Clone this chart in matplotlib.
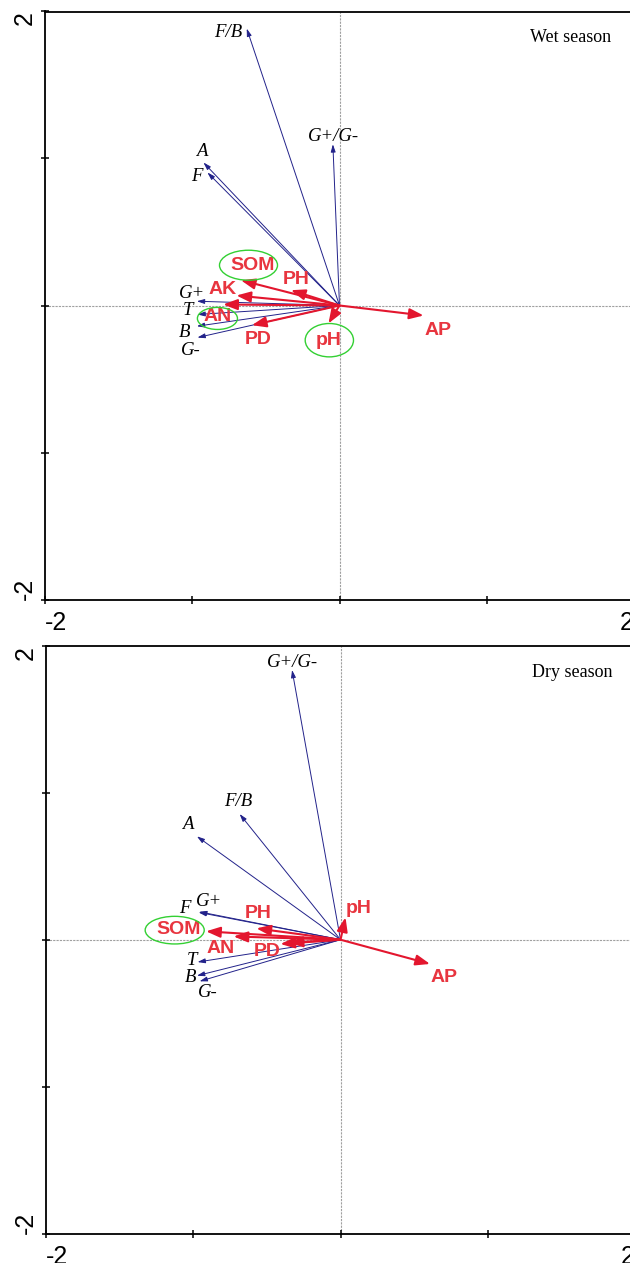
import matplotlib
matplotlib.use("Agg")
import matplotlib.pyplot as plt
from matplotlib.patches import Ellipse

# ---------------- data ----------------
# Wet season: biological (blue) vectors
wet_bio_names = ['F/B', 'G+/G-', 'A', 'F', 'G+', 'T', 'B', 'G-']
wet_bio_x = [-0.63, -0.045, -0.924, -0.897, -0.969, -0.965, -0.969, -0.965]
wet_bio_y = [1.884, 1.097, 0.973, 0.905, 0.029, -0.061, -0.141, -0.218]
wet_bio_lab_x = [-0.754, -0.041, -0.935, -0.969, -1.003, -1.026, -1.053, -1.007]
wet_bio_lab_y = [1.857, 1.147, 1.045, 0.880, 0.082, -0.037, -0.184, -0.309]

# Wet season: environmental (red) vectors
wet_env_names = ['SOM', 'AK', 'AN', 'PH', 'PD', 'pH', 'AP']
wet_env_x = [-0.67, -0.70, -0.79, -0.33, -0.595, -0.075, 0.571]
wet_env_y = [0.172, 0.068, 0.007, 0.104, -0.134, -0.122, -0.068]
wet_env_lab_x = [-0.591, -0.792, -0.829, -0.294, -0.55, -0.075, 0.666]
wet_env_lab_y = [0.269, 0.111, -0.078, 0.177, -0.231, -0.238, -0.168]
wet_circled = ['SOM', 'AN', 'pH']
wet_ell_x = [-0.618, -0.829, -0.069]
wet_ell_y = [0.274, -0.088, -0.236]
wet_ell_w = [0.394, 0.272, 0.328]
wet_ell_h = [0.204, 0.150, 0.227]

# Dry season: biological (blue) vectors
dry_bio_names = ['G+/G-', 'F/B', 'A', 'G+', 'F', 'T', 'B', 'G-']
dry_bio_x = [-0.329, -0.685, -0.975, -0.960, -0.964, -0.971, -0.975, -0.957]
dry_bio_y = [1.835, 0.855, 0.703, 0.190, 0.186, -0.152, -0.245, -0.283]
dry_bio_lab_x = [-0.329, -0.692, -1.036, -0.896, -1.054, -1.009, -1.02, -0.903]
dry_bio_lab_y = [1.887, 0.941, 0.787, 0.261, 0.209, -0.143, -0.256, -0.361]

# Dry season: environmental (red) vectors
dry_env_names = ['SOM', 'AN', 'PH', 'PD', 'AK', 'pH', 'AP']
dry_env_show = [True, True, True, True, False, True, True]
dry_env_x = [-0.913, -0.726, -0.571, -0.408, -0.352, 0.034, 0.608]
dry_env_y = [0.057, 0.022, 0.077, -0.029, -0.020, 0.152, -0.165]
dry_env_lab_x = [-1.10, -0.812, -0.556, -0.499, 0.0, 0.125, 0.703]
dry_env_lab_y = [0.066, -0.057, 0.175, -0.082, 0.0, 0.209, -0.256]
dry_circled = ['SOM']
dry_ell_x = [-1.126]
dry_ell_y = [0.065]
dry_ell_w = [0.401]
dry_ell_h = [0.188]

season_titles = ['Wet season', 'Dry season']
ticks = [-2, -1, 0, 1, 2]
tick_labels = ['-2', '', '', '', '2']

# ---------------- style ----------------
BLUE = '#22228a'
RED_LINE = '#e3162e'
RED_TXT = '#e8353f'
GREEN = '#33d033'
SERIF = ['Liberation Serif', 'DejaVu Serif']
SANS = ['Liberation Sans', 'DejaVu Sans']

W, H = 630, 1263
fig = plt.figure(figsize=(W / 100, H / 100), dpi=100)

panels = [
    dict(rect=[45 / W, 1 - 599.5 / H, 589 / W, 588 / H],
         bx=wet_bio_x, by=wet_bio_y, bn=wet_bio_names, blx=wet_bio_lab_x, bly=wet_bio_lab_y,
         ex=wet_env_x, ey=wet_env_y, en=wet_env_names, elx=wet_env_lab_x, ely=wet_env_lab_y,
         eshow=[True] * len(wet_env_names),
         ellx=wet_ell_x, elly=wet_ell_y, ellw=wet_ell_w, ellh=wet_ell_h,
         title=season_titles[0]),
    dict(rect=[46 / W, 1 - 1233.7 / H, 589 / W, 588 / H],
         bx=dry_bio_x, by=dry_bio_y, bn=dry_bio_names, blx=dry_bio_lab_x, bly=dry_bio_lab_y,
         ex=dry_env_x, ey=dry_env_y, en=dry_env_names, elx=dry_env_lab_x, ely=dry_env_lab_y,
         eshow=dry_env_show,
         ellx=dry_ell_x, elly=dry_ell_y, ellw=dry_ell_w, ellh=dry_ell_h,
         title=season_titles[1]),
]

for p in panels:
    ax = fig.add_axes(p['rect'])
    ax.set_xlim(-2, 2)
    ax.set_ylim(-2, 2)
    for s in ax.spines.values():
        s.set_linewidth(1.3)
        s.set_color('black')

    ax.axhline(0, color='#a0a0a0', lw=0.8, ls=(0, (2, 1)), zorder=1)
    ax.axvline(0, color='#a0a0a0', lw=0.8, ls=(0, (2, 1)), zorder=1)

    ax.set_xticks(ticks)
    ax.set_xticklabels(tick_labels, fontfamily=SANS, fontsize=18)
    ax.set_yticks(ticks)
    ax.set_yticklabels(tick_labels, fontfamily=SANS, fontsize=18, rotation=90)
    ax.tick_params(axis='both', direction='inout', length=6, width=1.1)
    ax.tick_params(axis='x', pad=5)
    ax.tick_params(axis='y', pad=3)
    xl = ax.get_xticklabels()
    xl[0].set_ha('left')
    xl[-1].set_ha('right')
    yl = ax.get_yticklabels()
    yl[0].set_va('bottom')
    yl[-1].set_va('top')

    # blue vectors
    for x, y, n, lx, ly in zip(p['bx'], p['by'], p['bn'], p['blx'], p['bly']):
        ax.annotate('', xy=(x, y), xytext=(0, 0),
                    arrowprops=dict(arrowstyle='-|>,head_length=0.45,head_width=0.14',
                                    color=BLUE, lw=0.7, shrinkA=0, shrinkB=0,
                                    mutation_scale=10), zorder=3)
        ax.text(lx, ly, n, fontfamily=SERIF, style='italic', fontsize=13.5,
                color='black', ha='center', va='center', zorder=5)

    # red vectors
    for x, y, n, lx, ly, show in zip(p['ex'], p['ey'], p['en'], p['elx'], p['ely'], p['eshow']):
        ax.annotate('', xy=(x, y), xytext=(0, 0),
                    arrowprops=dict(arrowstyle='-|>,head_length=0.85,head_width=0.32',
                                    color=RED_LINE, lw=1.5, shrinkA=0, shrinkB=0,
                                    mutation_scale=10), zorder=4)
        if show:
            ax.text(lx, ly, n, fontfamily=SANS, fontweight='bold', fontsize=14,
                    color=RED_TXT, ha='center', va='center', zorder=6)

    # green ellipses
    for cx, cy, w, h in zip(p['ellx'], p['elly'], p['ellw'], p['ellh']):
        ax.add_patch(Ellipse((cx, cy), w, h, fill=False, edgecolor=GREEN, lw=1.0, zorder=7))

    ax.text(0.893, 0.955, p['title'], transform=ax.transAxes, fontfamily=SERIF,
            fontsize=13, ha='center', va='center', color='black')

fig.savefig('out.png', dpi=100)
